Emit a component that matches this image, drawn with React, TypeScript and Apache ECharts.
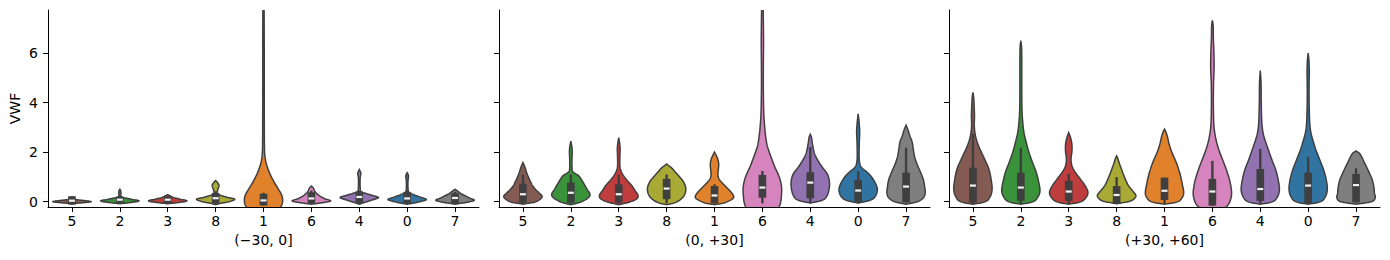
import React, { useEffect, useRef } from "react";
import * as echarts from "echarts";

// Cluster order along each x axis
const CATEGORIES = ["5", "2", "3", "8", "1", "6", "4", "0", "7"];
const PANEL_TITLES = ["(\u221230, 0]", "(0, +30]", "(+30, +60]"];
const Y_TICKS = [0, 2, 4, 6];
const Y_MIN = -0.215;
const Y_MAX = 7.74;

// Desaturated tab10 colours per cluster label
const CLUSTER_COLORS: Record<string, string> = {
  "0": "#3274a1",
  "1": "#e1812c",
  "2": "#3a923a",
  "3": "#c03d3e",
  "4": "#9372b2",
  "5": "#845b53",
  "6": "#d684bd",
  "7": "#7f7f7f",
  "8": "#a9aa35",
};

// Violin outlines: [VWF value, relative half-width 0..1], bottom to top, in CATEGORIES order
const PROFILES_NEG30_0 = [
  [[-0.08, 0], [-0.04, 0.6], [0, 1.0], [0.04, 0.7], [0.08, 0.25], [0.11, 0]],
  [[-0.08, 0], [-0.03, 0.6], [0.03, 1.0], [0.1, 0.6], [0.18, 0.15], [0.25, 0.05], [0.35, 0.06], [0.45, 0.04], [0.5, 0]],
  [[-0.08, 0], [-0.03, 0.6], [0.03, 1.0], [0.1, 0.65], [0.17, 0.3], [0.24, 0.12], [0.28, 0]],
  [[-0.12, 0], [-0.06, 0.3], [0, 0.7], [0.1, 1.0], [0.18, 0.6], [0.26, 0.25], [0.35, 0.1], [0.45, 0.1], [0.55, 0.14], [0.65, 0.18], [0.75, 0.12], [0.85, 0]],
  [[-0.4, 0.6], [-0.25, 0.85], [-0.1, 0.97], [0.1, 1.0], [0.3, 0.93], [0.5, 0.78], [0.8, 0.55], [1.1, 0.35], [1.4, 0.2], [1.7, 0.1], [2.2, 0.05], [4, 0.04], [6, 0.04], [7.9, 0.03]],
  [[-0.1, 0], [-0.05, 0.5], [0.03, 1.0], [0.12, 0.7], [0.25, 0.4], [0.4, 0.2], [0.55, 0.1], [0.63, 0]],
  [[-0.1, 0], [0.0, 0.4], [0.1, 0.8], [0.17, 1.0], [0.25, 0.7], [0.33, 0.35], [0.42, 0.1], [0.55, 0.05], [0.8, 0.04], [1.0, 0.05], [1.15, 0.08], [1.3, 0]],
  [[-0.1, 0], [-0.03, 0.5], [0.08, 1.0], [0.18, 0.7], [0.28, 0.35], [0.38, 0.12], [0.5, 0.05], [0.8, 0.04], [1.0, 0.07], [1.1, 0.05], [1.17, 0]],
  [[-0.1, 0], [-0.04, 0.5], [0.05, 1.0], [0.15, 0.75], [0.25, 0.5], [0.33, 0.3], [0.42, 0.15], [0.5, 0]],
];

const PROFILES_0_30 = [
  [[-0.1, 0], [-0.02, 0.6], [0.1, 0.9], [0.22, 1.0], [0.35, 0.85], [0.5, 0.65], [0.65, 0.5], [0.8, 0.4], [1.0, 0.28], [1.2, 0.18], [1.4, 0.1], [1.58, 0]],
  [[-0.12, 0], [-0.02, 0.5], [0.15, 0.9], [0.3, 1.0], [0.5, 0.85], [0.7, 0.7], [0.9, 0.55], [1.05, 0.4], [1.2, 0.12], [1.35, 0.06], [1.7, 0.06], [2.1, 0.07], [2.45, 0]],
  [[-0.12, 0], [-0.02, 0.55], [0.12, 0.95], [0.27, 1.0], [0.45, 0.85], [0.65, 0.68], [0.85, 0.45], [1.05, 0.25], [1.25, 0.12], [1.45, 0.06], [1.8, 0.06], [2.2, 0.07], [2.59, 0]],
  [[-0.12, 0], [-0.05, 0.4], [0.1, 0.75], [0.3, 0.95], [0.55, 1.0], [0.8, 0.88], [1.0, 0.68], [1.2, 0.45], [1.35, 0.28], [1.45, 0.12], [1.52, 0]],
  [[-0.12, 0], [-0.05, 0.5], [0.1, 0.92], [0.22, 1.0], [0.4, 0.85], [0.6, 0.6], [0.8, 0.35], [0.95, 0.22], [1.1, 0.18], [1.3, 0.2], [1.5, 0.22], [1.7, 0.18], [1.85, 0.1], [2.0, 0]],
  [[-0.5, 0.6], [-0.3, 0.8], [-0.1, 0.93], [0.2, 0.99], [0.6, 1.0], [1.0, 0.88], [1.4, 0.65], [1.7, 0.5], [2.0, 0.36], [2.3, 0.24], [2.7, 0.16], [3.1, 0.11], [3.6, 0.07], [4.5, 0.05], [5.5, 0.05], [6.5, 0.06], [7.9, 0.04]],
  [[-0.05, 0], [0.05, 0.6], [0.2, 0.85], [0.5, 0.98], [0.8, 1.0], [1.1, 0.9], [1.4, 0.62], [1.6, 0.45], [1.8, 0.3], [2.0, 0.2], [2.3, 0.12], [2.6, 0.06], [2.72, 0]],
  [[-0.05, 0], [0.05, 0.6], [0.2, 0.88], [0.45, 1.0], [0.7, 0.93], [1.0, 0.7], [1.2, 0.45], [1.35, 0.22], [1.5, 0.1], [1.8, 0.05], [2.4, 0.06], [2.8, 0.08], [3.2, 0.05], [3.55, 0]],
  [[-0.1, 0], [0.0, 0.6], [0.15, 0.9], [0.35, 1.0], [0.6, 0.97], [0.9, 0.9], [1.2, 0.75], [1.5, 0.58], [1.8, 0.45], [2.1, 0.38], [2.4, 0.32], [2.65, 0.2], [2.9, 0.1], [3.09, 0]],
];

const PROFILES_30_60 = [
  [[-0.1, 0], [0.0, 0.65], [0.2, 0.9], [0.5, 1.0], [0.9, 0.95], [1.3, 0.84], [1.6, 0.68], [1.9, 0.5], [2.2, 0.32], [2.5, 0.18], [2.8, 0.1], [3.1, 0.07], [3.5, 0.08], [3.9, 0.06], [4.2, 0.04], [4.41, 0]],
  [[-0.1, 0], [0.0, 0.65], [0.2, 0.9], [0.45, 1.0], [0.8, 0.93], [1.2, 0.8], [1.6, 0.6], [2.0, 0.42], [2.4, 0.28], [2.8, 0.16], [3.2, 0.1], [3.7, 0.06], [4.5, 0.05], [5.5, 0.05], [6.2, 0.04], [6.5, 0]],
  [[-0.1, 0], [0.0, 0.65], [0.2, 0.93], [0.4, 1.0], [0.65, 0.85], [0.9, 0.62], [1.1, 0.42], [1.3, 0.25], [1.5, 0.15], [1.75, 0.12], [2.05, 0.17], [2.35, 0.16], [2.6, 0.09], [2.79, 0]],
  [[-0.08, 0], [0.02, 0.7], [0.15, 0.95], [0.27, 1.0], [0.45, 0.82], [0.65, 0.62], [0.9, 0.46], [1.15, 0.33], [1.4, 0.21], [1.6, 0.12], [1.75, 0.06], [1.85, 0]],
  [[-0.1, 0], [0.0, 0.7], [0.2, 0.95], [0.4, 1.0], [0.7, 0.93], [1.0, 0.85], [1.4, 0.7], [1.7, 0.55], [2.0, 0.38], [2.3, 0.25], [2.6, 0.16], [2.8, 0.08], [2.93, 0]],
  [[-0.3, 0.6], [-0.1, 0.85], [0.15, 0.97], [0.4, 1.0], [0.8, 0.92], [1.2, 0.77], [1.6, 0.58], [2.0, 0.38], [2.4, 0.22], [2.8, 0.12], [3.2, 0.07], [4.0, 0.05], [4.8, 0.06], [5.4, 0.09], [6.0, 0.08], [6.6, 0.05], [7.1, 0.04], [7.32, 0]],
  [[-0.1, 0], [0.0, 0.65], [0.2, 0.9], [0.5, 1.0], [0.9, 0.93], [1.3, 0.8], [1.7, 0.6], [2.1, 0.42], [2.5, 0.24], [2.8, 0.14], [3.2, 0.08], [4.0, 0.05], [4.8, 0.04], [5.29, 0]],
  [[-0.1, 0], [0.0, 0.65], [0.2, 0.9], [0.5, 1.0], [0.9, 0.94], [1.3, 0.8], [1.7, 0.6], [2.1, 0.4], [2.5, 0.24], [2.8, 0.14], [3.2, 0.08], [4.0, 0.05], [4.8, 0.05], [5.2, 0.06], [5.7, 0.04], [6.0, 0]],
  [[-0.1, 0], [0.0, 0.8], [0.15, 1.0], [0.35, 0.96], [0.6, 0.93], [0.9, 0.84], [1.15, 0.7], [1.4, 0.55], [1.6, 0.42], [1.8, 0.3], [1.95, 0.18], [2.05, 0]],
];

// Inner box statistics: [whisker low, Q1, median, Q3, whisker high]
const BOXES_NEG30_0 = [
  [-0.12, -0.12, 0.04, 0.22, 0.22],
  [-0.1, -0.09, 0.08, 0.2, 0.25],
  [-0.1, -0.09, 0.08, 0.2, 0.22],
  [-0.1, -0.07, 0.14, 0.34, 0.42],
  [-0.16, -0.15, 0.05, 0.32, 0.36],
  [-0.1, -0.07, 0.13, 0.38, 0.45],
  [-0.1, -0.04, 0.19, 0.38, 0.45],
  [-0.1, -0.09, 0.13, 0.38, 0.45],
  [-0.1, -0.09, 0.15, 0.34, 0.4],
];

const BOXES_0_30 = [
  [-0.07, -0.04, 0.3, 0.72, 1.1],
  [-0.07, -0.04, 0.36, 0.77, 1.1],
  [-0.07, -0.04, 0.3, 0.7, 1.1],
  [-0.07, 0.1, 0.53, 0.92, 1.1],
  [-0.07, -0.07, 0.25, 0.63, 0.7],
  [-0.07, 0.16, 0.57, 1.08, 1.24],
  [-0.07, 0.14, 0.77, 1.19, 2.2],
  [-0.07, 0.0, 0.45, 0.88, 1.24],
  [-0.03, -0.03, 0.61, 1.17, 2.18],
];

const BOXES_30_60 = [
  [-0.08, -0.03, 0.65, 1.37, 2.74],
  [-0.08, 0.04, 0.57, 1.17, 2.18],
  [-0.08, 0.03, 0.41, 0.84, 1.12],
  [-0.09, -0.09, 0.27, 0.63, 0.99],
  [-0.08, 0.07, 0.44, 0.97, 0.97],
  [-0.16, -0.16, 0.41, 0.92, 1.65],
  [-0.08, 0.03, 0.51, 1.32, 2.13],
  [-0.07, -0.07, 0.65, 1.17, 1.82],
  [-0.03, -0.03, 0.67, 1.12, 1.35],
];

const PANEL_PROFILES = [PROFILES_NEG30_0, PROFILES_0_30, PROFILES_30_60];
const PANEL_BOXES = [BOXES_NEG30_0, BOXES_0_30, BOXES_30_60];

const LINE_COLOR = "#3f3f3f";
const FONT = "DejaVu Sans";
const FONT_SIZE = 14;
const GRID_LEFTS = [48, 499, 949];
const GRID_WIDTH = 431;

// Smooth an outline (pixel points) with a Catmull-Rom spline for drawing
function smoothOutline(pts: number[][], steps = 8): number[][] {
  const out: number[][] = [];
  const n = pts.length;
  for (let i = 0; i < n - 1; i++) {
    const p0 = pts[Math.max(0, i - 1)];
    const p1 = pts[i];
    const p2 = pts[i + 1];
    const p3 = pts[Math.min(n - 1, i + 2)];
    for (let s = 0; s < steps; s++) {
      const t = s / steps;
      const t2 = t * t;
      const t3 = t2 * t;
      const f = (a: number, b: number, c: number, d: number) =>
        0.5 * (2 * b + (-a + c) * t + (2 * a - 5 * b + 4 * c - d) * t2 + (-a + 3 * b - 3 * c + d) * t3);
      out.push([f(p0[0], p1[0], p2[0], p3[0]), f(p0[1], p1[1], p2[1], p3[1])]);
    }
  }
  out.push(pts[n - 1]);
  return out;
}

function makeRenderItem(panel: number) {
  return (params: any, api: any) => {
    const idx = params.dataIndex;
    const k = api.value(0);
    const profile = PANEL_PROFILES[panel][idx];
    const box = PANEL_BOXES[panel][idx];
    const color = CLUSTER_COLORS[CATEGORIES[idx]];
    const cx = api.coord([k, 0])[0];
    const band = api.size([1, 0])[0];
    const halfMax = band * 0.4;
    const py = (v: number) => api.coord([k, v])[1];

    // right half: offset from centre vs pixel y
    const half = profile.map(([v, w]: number[]) => [w * halfMax, py(v)]);
    const smooth = smoothOutline(half).map(([dx, y]) => [Math.max(0, dx), y]);
    const right = smooth.map(([dx, y]) => [cx + dx, y]);
    const left = smooth
      .slice()
      .reverse()
      .map(([dx, y]) => [cx - dx, y]);
    const points = right.concat(left);

    const [lo, q1, med, q3, hi] = box;
    const boxW = band * 0.16;
    const whiskW = band * 0.05;
    const medW = band * 0.125;

    return {
      type: "group",
      children: [
        {
          type: "polygon",
          shape: { points },
          style: { fill: color, stroke: LINE_COLOR, lineWidth: 1.5 },
        },
        {
          type: "rect",
          shape: { x: cx - whiskW / 2, y: py(hi), width: whiskW, height: py(lo) - py(hi) },
          style: { fill: LINE_COLOR },
        },
        {
          type: "rect",
          shape: { x: cx - boxW / 2, y: py(q3), width: boxW, height: py(q1) - py(q3) },
          style: { fill: LINE_COLOR },
        },
        {
          type: "rect",
          shape: { x: cx - medW / 2, y: py(med) - 1.1, width: medW, height: 2.2 },
          style: { fill: "#f2f2f2" },
        },
      ],
    };
  };
}

export default function App() {
  const ref = useRef<HTMLDivElement>(null);

  useEffect(() => {
    if (!ref.current) return;
    const chart = echarts.init(ref.current, undefined, { renderer: "svg" });

    const grid = GRID_LEFTS.map((left) => ({
      left,
      top: 10,
      width: GRID_WIDTH,
      height: 197,
      containLabel: false,
    }));

    const xAxis = PANEL_TITLES.map((title, i) => ({
      type: "category",
      gridIndex: i,
      data: CATEGORIES,
      boundaryGap: true,
      name: title,
      nameLocation: "middle",
      nameGap: 26,
      nameTextStyle: { color: "#000", fontSize: FONT_SIZE, fontFamily: FONT },
      axisLine: { show: true, onZero: false, lineStyle: { color: "#000", width: 1 } },
      axisTick: { show: true, alignWithLabel: true, length: 5, lineStyle: { color: "#000", width: 1 } },
      axisLabel: { color: "#000", fontSize: FONT_SIZE, fontFamily: FONT, margin: 7 },
      splitLine: { show: false },
    }));

    const yAxis = PANEL_TITLES.map((_, i) => ({
      type: "value",
      gridIndex: i,
      min: Y_MIN,
      max: Y_MAX,
      name: i === 0 ? "VWF" : "",
      nameLocation: "middle",
      nameGap: 26,
      nameTextStyle: { color: "#000", fontSize: FONT_SIZE, fontFamily: FONT },
      axisLine: { show: true, onZero: false, lineStyle: { color: "#000", width: 1 } },
      axisTick: { show: true, length: 5, customValues: Y_TICKS, lineStyle: { color: "#000", width: 1 } },
      axisLabel: {
        show: i === 0,
        customValues: Y_TICKS,
        color: "#000",
        fontSize: FONT_SIZE,
        fontFamily: FONT,
        margin: 10,
      },
      splitLine: { show: false },
    }));

    const series = PANEL_TITLES.map((_, i) => ({
      type: "custom",
      xAxisIndex: i,
      yAxisIndex: i,
      clip: true,
      renderItem: makeRenderItem(i),
      data: CATEGORIES.map((_c, k) => [k, 0]),
    }));

    chart.setOption({
      animation: false,
      backgroundColor: "#ffffff",
      textStyle: { fontFamily: FONT },
      grid,
      xAxis,
      yAxis,
      series,
    });

    return () => chart.dispose();
  }, []);

  return (
    <div
      ref={ref}
      style={{ position: "fixed", left: 0, top: 0, width: 1390, height: 260, background: "#fff" }}
    />
  );
}
